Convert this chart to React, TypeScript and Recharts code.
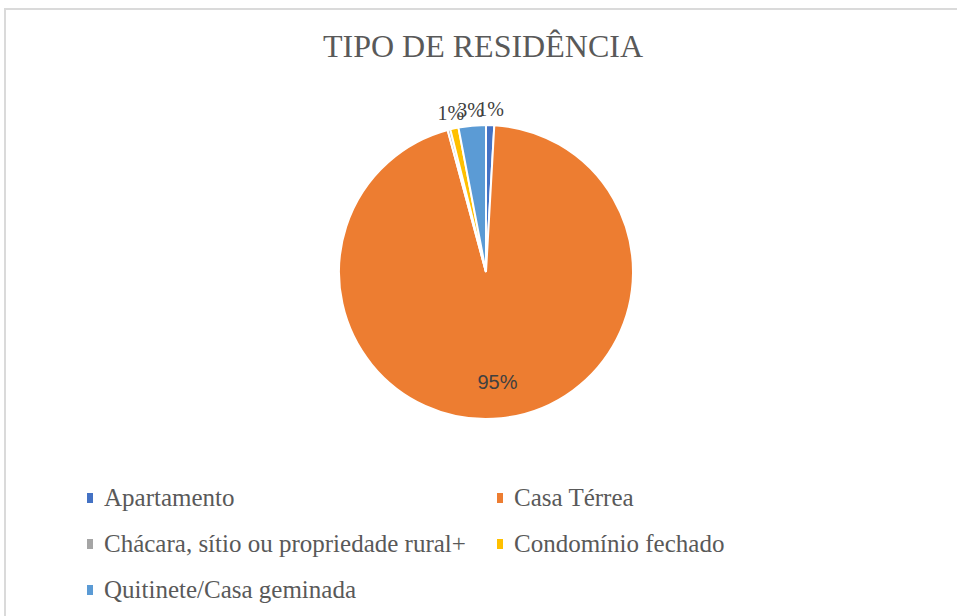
import React from "react";
import { PieChart, Pie, Cell, Legend } from "recharts";

const categories = [
  "Apartamento",
  "Casa Térrea",
  "Chácara, sítio ou propriedade rural+",
  "Condomínio fechado",
  "Quitinete/Casa geminada",
];
const shares = [0.9, 94.9, 0.3, 0.9, 3.0];
const COLORS = ["#4472C4", "#ED7D31", "#A5A5A5", "#FFC000", "#5B9BD5"];

const data = categories.map((name, i) => ({ name, value: shares[i] }));

const RADIAN = Math.PI / 180;

const renderLabel = (props: any) => {
  const { cx, cy, midAngle, outerRadius, percent, index } = props;
  const pct = Math.round(percent * 100);
  if (pct === 0) return null;
  const inside = percent > 0.5;
  const r = inside ? outerRadius * 0.75 : outerRadius + 16;
  const x = cx + r * Math.cos(-midAngle * RADIAN);
  const y = cy + r * Math.sin(-midAngle * RADIAN);
  return (
    <text
      key={`lbl-${index}`}
      x={x}
      y={y}
      textAnchor="middle"
      dominantBaseline="central"
      fill="#404040"
      fontSize={20}
      fontFamily={
        inside
          ? "Liberation Sans, Arial, sans-serif"
          : "Liberation Serif, Times New Roman, serif"
      }
    >
      {`${pct}%`}
    </text>
  );
};

const renderLegend = (props: any) => {
  const { payload } = props;
  return (
    <div style={{ position: "relative", width: 957, height: 140 }}>
      {(payload || []).map((entry: any, i: number) => {
        const col = i % 2;
        const row = Math.floor(i / 2);
        return (
          <div
            key={`leg-${i}`}
            style={{
              position: "absolute",
              left: col === 0 ? 87 : 497,
              top: row * 46,
              height: 30,
              display: "flex",
              alignItems: "center",
              whiteSpace: "nowrap",
            }}
          >
            <span
              style={{
                display: "inline-block",
                width: 6,
                height: 10,
                background: entry.color,
                marginRight: 11,
              }}
            />
            <span
              style={{
                fontFamily: "Liberation Serif, Times New Roman, serif",
                fontSize: 25,
                color: "#595959",
                lineHeight: "30px",
              }}
            >
              {entry.value}
            </span>
          </div>
        );
      })}
    </div>
  );
};

export default function App() {
  return (
    <div
      style={{
        position: "absolute",
        left: 0,
        top: 0,
        width: 957,
        height: 616,
        overflow: "hidden",
        background: "#fff",
      }}
    >
      <div
        style={{
          position: "absolute",
          left: 4,
          top: 8,
          width: 1000,
          height: 700,
          border: "2px solid #dadada",
          boxSizing: "border-box",
        }}
      />
      <div
        style={{
          position: "absolute",
          left: 0,
          top: 26,
          width: 966,
          textAlign: "center",
          fontFamily: "Liberation Serif, Times New Roman, serif",
          fontSize: 32,
          lineHeight: "40px",
          color: "#595959",
        }}
      >
        TIPO DE RESIDÊNCIA
      </div>
      <div style={{ position: "absolute", left: 0, top: 0 }}>
        <PieChart
          width={957}
          height={616}
          margin={{ top: 0, right: 0, bottom: 0, left: 0 }}
        >
          <Pie
            data={data}
            dataKey="value"
            nameKey="name"
            cx={486}
            cy={272}
            outerRadius={147}
            startAngle={90}
            endAngle={-270}
            stroke="#ffffff"
            strokeWidth={2}
            label={renderLabel}
            labelLine={false}
            isAnimationActive={false}
          >
            {data.map((_, i) => (
              <Cell key={`cell-${i}`} fill={COLORS[i]} />
            ))}
          </Pie>
          <Legend
            content={renderLegend}
            wrapperStyle={{ left: 0, top: 483, width: 957 }}
          />
        </PieChart>
      </div>
    </div>
  );
}
